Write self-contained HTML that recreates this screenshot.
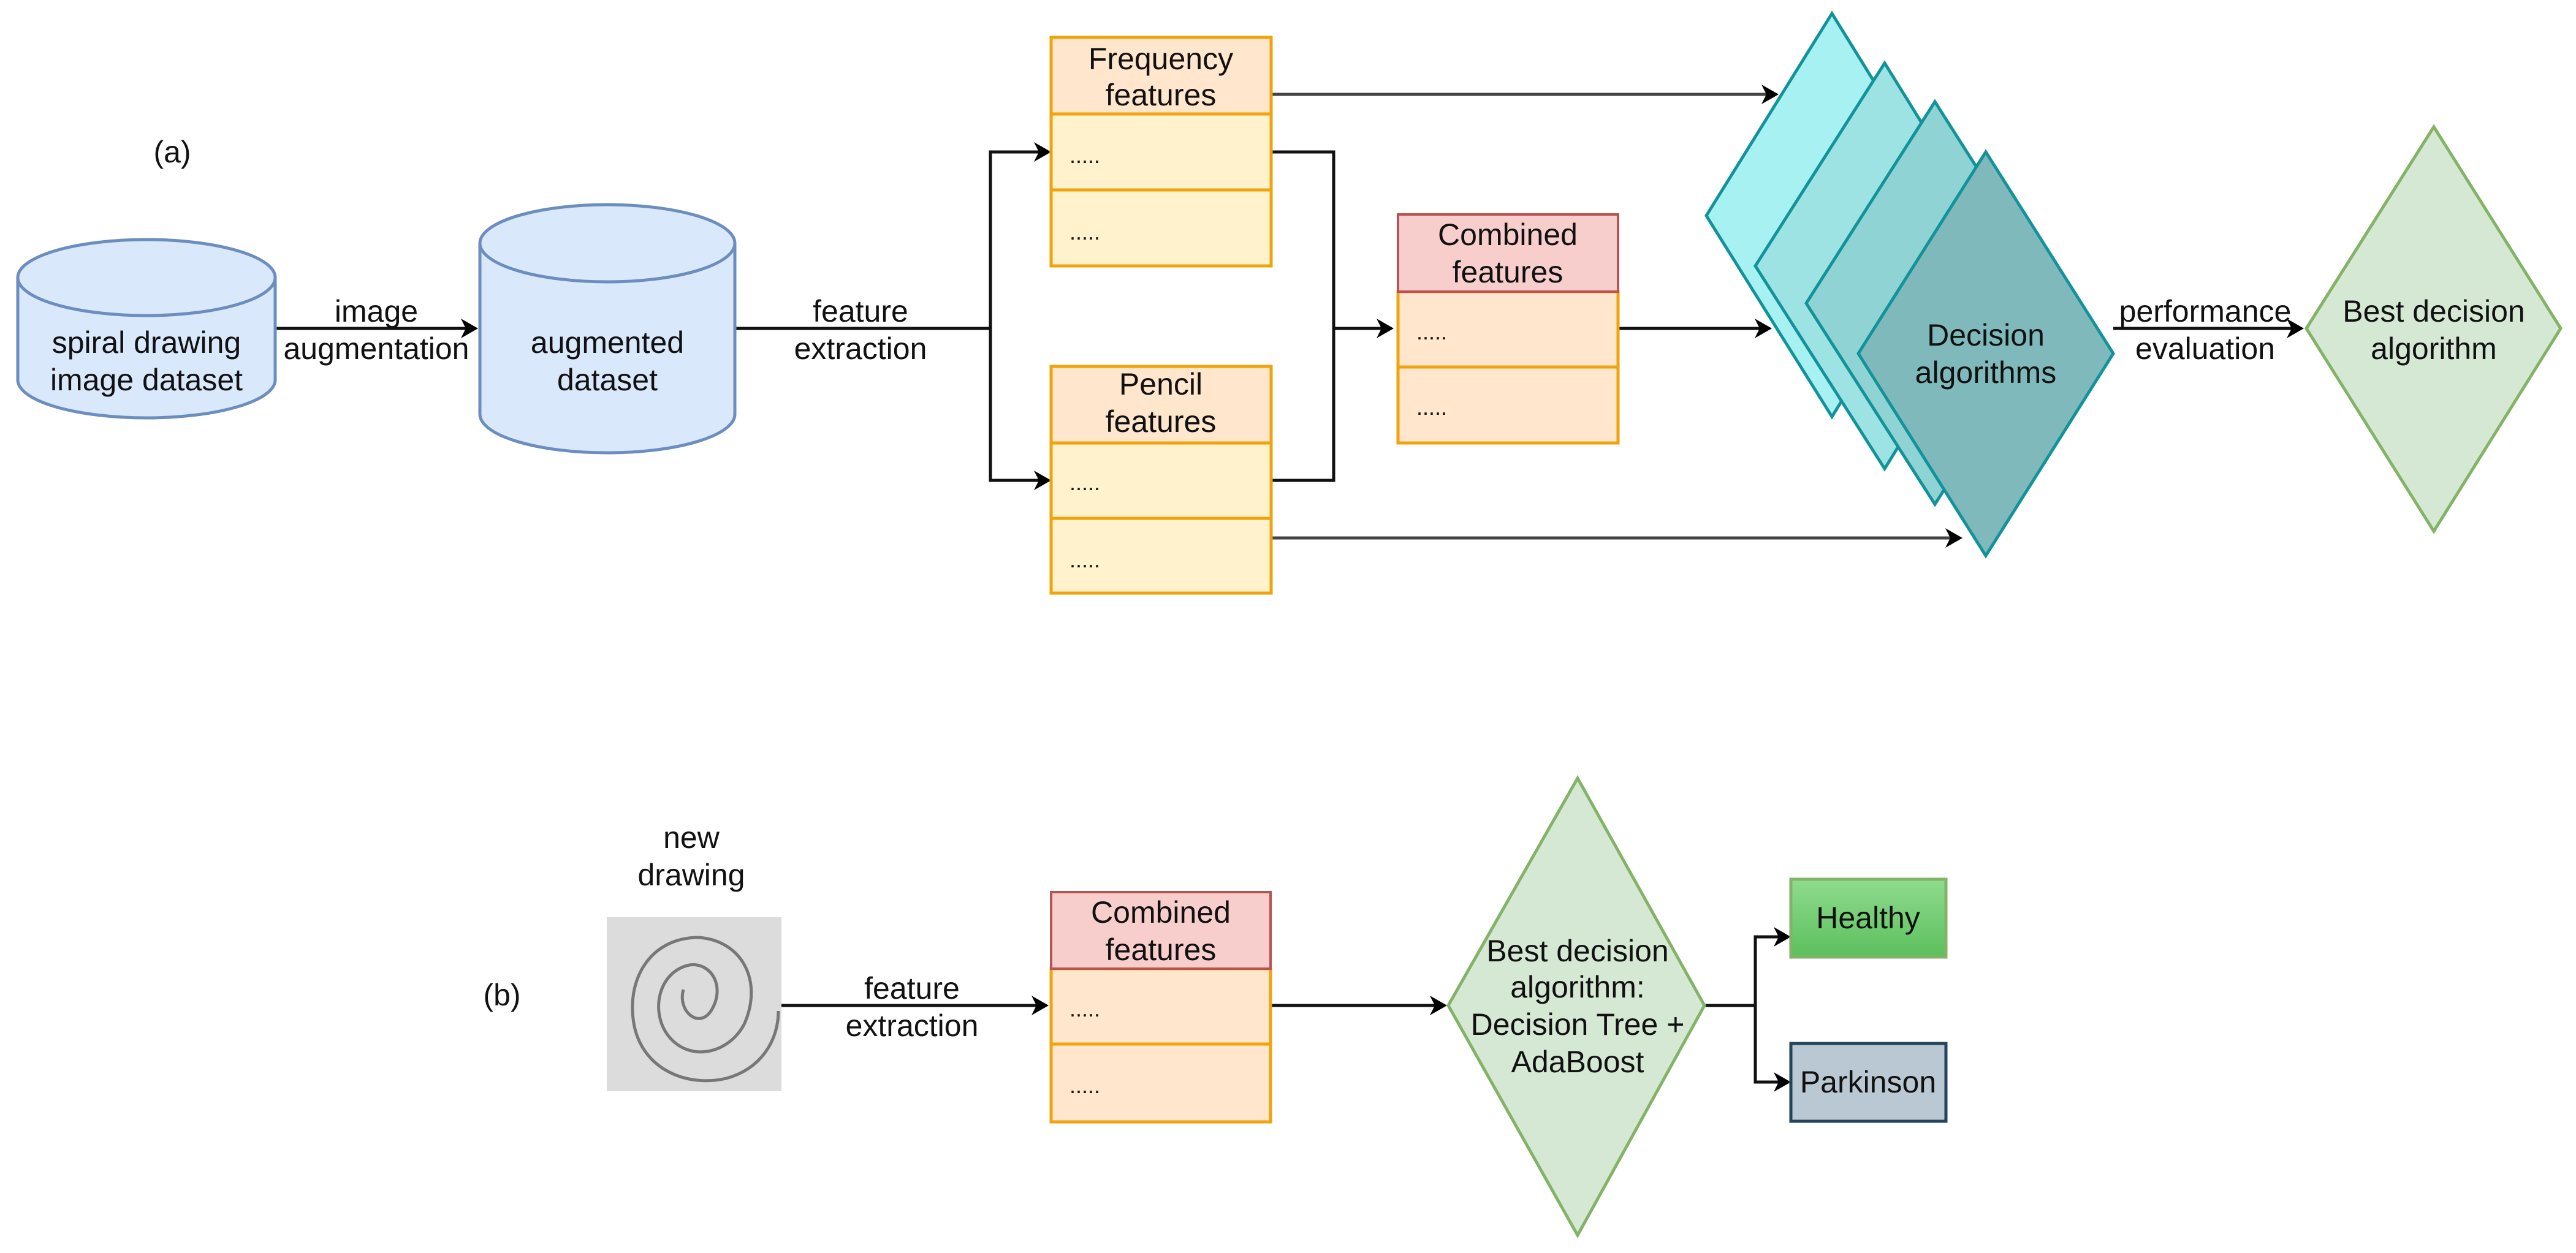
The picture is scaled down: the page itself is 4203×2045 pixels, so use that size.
<!DOCTYPE html>
<html><head><meta charset="utf-8"><style>
html,body{margin:0;padding:0;background:#fff;}
svg text{font-family:"Liberation Sans",Arial,sans-serif;font-size:50px;fill:#111;text-anchor:middle;}
</style></head><body>
<svg width="4203" height="2040" viewBox="0 0 4203 2040" xmlns="http://www.w3.org/2000/svg">
<defs>
<marker id="ar" viewBox="0 0 10 10" refX="9" refY="5" markerWidth="7" markerHeight="7" markerUnits="userSpaceOnUse" orient="auto">
</marker>
<linearGradient id="gh" x1="0" y1="0" x2="0" y2="1"><stop offset="0" stop-color="#8fdc8f"/><stop offset="1" stop-color="#5cbf5c"/></linearGradient>
</defs>
<g stroke="#111" stroke-width="5" fill="none">
<!-- a connectors -->
<line x1="449" y1="536" x2="760" y2="536"/>
<line x1="1199" y1="536" x2="1616" y2="536"/>
<polyline points="1695,248 1616,248 1616,784 1695,784"/>
<polyline points="2074,248 2176,248 2176,784 2074,784"/>
<line x1="2176" y1="536" x2="2255" y2="536"/>
<line x1="2640" y1="536" x2="2872" y2="536"/>
<line x1="2074" y1="154" x2="2882" y2="154" stroke="#444"/>
<line x1="2074" y1="878" x2="3182" y2="878" stroke="#444"/>
<line x1="3448" y1="536" x2="3740" y2="536"/>
<!-- b connectors -->
<line x1="1275" y1="1641" x2="1692" y2="1641"/>
<line x1="2073" y1="1641" x2="2342" y2="1641"/>
<polyline points="2781,1641 2864,1641"/>
<polyline points="2902,1529 2864,1529 2864,1766 2902,1766"/>
</g>
<g fill="#000">
<polygon points="780,536 752,520 760,536 752,552"/>
<polygon points="1715,248 1687,232 1695,248 1687,264"/>
<polygon points="1715,784 1687,768 1695,784 1687,800"/>
<polygon points="2274,536 2246,520 2254,536 2246,552"/>
<polygon points="2891,536 2863,520 2871,536 2863,552"/>
<polygon points="2902,154 2874,138 2882,154 2874,170"/>
<polygon points="3202,878 3174,862 3182,878 3174,894"/>
<polygon points="3759,536 3731,520 3739,536 3731,552"/>
<polygon points="1711,1641 1683,1625 1691,1641 1683,1657"/>
<polygon points="2361,1641 2333,1625 2341,1641 2333,1657"/>
<polygon points="2922,1529 2894,1513 2902,1529 2894,1545"/>
<polygon points="2922,1766 2894,1750 2902,1766 2894,1782"/>
</g>

<!-- cylinders -->
<g fill="#dae8fc" stroke="#6c8ebf" stroke-width="5">
<path d="M29,453 L29,620 A210,62 0 0 0 449,620 L449,453"/>
<ellipse cx="239" cy="453" rx="210" ry="62"/>
<path d="M783,397 L783,676 A208,63 0 0 0 1199,676 L1199,397"/>
<ellipse cx="991" cy="397" rx="208" ry="63"/>
</g>
<text x="281" y="265">(a)</text>
<text x="239" y="576">spiral drawing</text>
<text x="239" y="637">image dataset</text>
<text x="614" y="525">image</text>
<text x="614" y="586">augmentation</text>
<text x="991" y="576">augmented</text>
<text x="991" y="637">dataset</text>
<text x="1404" y="525">feature</text>
<text x="1404" y="586">extraction</text>

<!-- tables -->
<g stroke="#f0a30a" stroke-width="5">
<rect x="1715" y="61" width="359" height="125" fill="#ffe6cc"/>
<rect x="1715" y="186" width="359" height="124" fill="#fff2cc"/>
<rect x="1715" y="310" width="359" height="124" fill="#fff2cc"/>
<rect x="1715" y="598" width="359" height="125" fill="#ffe6cc"/>
<rect x="1715" y="723" width="359" height="123" fill="#fff2cc"/>
<rect x="1715" y="846" width="359" height="122" fill="#fff2cc"/>
<rect x="2281" y="476" width="359" height="123" fill="#ffe6cc"/>
<rect x="2281" y="599" width="359" height="124" fill="#ffe6cc"/>
<rect x="1715" y="1581" width="358" height="123" fill="#ffe6cc"/>
<rect x="1715" y="1704" width="358" height="127" fill="#ffe6cc"/>
</g>
<g stroke="#b85450" stroke-width="4" fill="#f8cecc">
<rect x="2281" y="350" width="359" height="126"/>
<rect x="1715" y="1456" width="358" height="125"/>
</g>
<text x="1894" y="113">Frequency</text>
<text x="1894" y="172">features</text>
<text x="1894" y="644">Pencil</text>
<text x="1894" y="705">features</text>
<text x="2460" y="400">Combined</text>
<text x="2460" y="461">features</text>
<text x="1894" y="1506">Combined</text>
<text x="1894" y="1567">features</text>
<g style="font-size:36px" >
<text x="1770" y="266" style="font-size:36px">.....</text>
<text x="1770" y="391" style="font-size:36px">.....</text>
<text x="1770" y="800" style="font-size:36px">.....</text>
<text x="1770" y="926" style="font-size:36px">.....</text>
<text x="2336" y="554" style="font-size:36px">.....</text>
<text x="2336" y="677" style="font-size:36px">.....</text>
<text x="1770" y="1659" style="font-size:36px">.....</text>
<text x="1770" y="1784" style="font-size:36px">.....</text>
</g>

<!-- decision diamonds -->
<g stroke="#12939a" stroke-width="5">
<polygon points="2989,22 3193,352 2989,680 2784,352" fill="#a7f1f3"/>
<polygon points="3075,103 3280,434 3075,765 2864,434" fill="#9de3e4"/>
<polygon points="3157,166 3366,495 3157,823 2947,495" fill="#8fd3d4"/>
<polygon points="3240,248 3448,577 3240,907 3032,577" fill="#7fb9bb"/>
</g>
<text x="3240" y="564">Decision</text>
<text x="3240" y="625">algorithms</text>
<text x="3598" y="525">performance</text>
<text x="3598" y="586">evaluation</text>
<polygon points="3971,207 4178,536 3971,867 3763,536" fill="#d5e8d4" stroke="#82b366" stroke-width="5"/>
<text x="3971" y="525">Best decision</text>
<text x="3971" y="586">algorithm</text>

<!-- b -->
<text x="819" y="1641">(b)</text>
<text x="1128" y="1384">new</text>
<text x="1128" y="1445">drawing</text>
<rect x="990" y="1497" width="285" height="284" fill="#dcdcdc"/>
<path d="M1115,1615 C1105,1650 1140,1680 1160,1650 C1185,1610 1160,1570 1125,1575 C1075,1585 1060,1650 1090,1690 C1125,1735 1190,1720 1215,1670 C1245,1600 1210,1535 1140,1530 C1060,1530 1020,1600 1035,1675 C1050,1745 1120,1775 1185,1760 C1240,1745 1270,1700 1270,1650" fill="none" stroke="#777" stroke-width="5"/>
<text x="1488" y="1630">feature</text>
<text x="1488" y="1691">extraction</text>
<polygon points="2574,1270 2781,1641 2574,2016 2363,1641" fill="#d5e8d4" stroke="#82b366" stroke-width="5"/>
<text x="2574" y="1569">Best decision</text>
<text x="2574" y="1628">algorithm:</text>
<text x="2574" y="1689">Decision Tree +</text>
<text x="2574" y="1750">AdaBoost</text>
<rect x="2922" y="1435" width="253" height="127" fill="url(#gh)" stroke="#82b366" stroke-width="5"/>
<text x="3048" y="1515">Healthy</text>
<rect x="2922" y="1703" width="253" height="127" fill="#bac8d3" stroke="#23445d" stroke-width="5"/>
<text x="3048" y="1783">Parkinson</text>
</svg>
</body></html>
